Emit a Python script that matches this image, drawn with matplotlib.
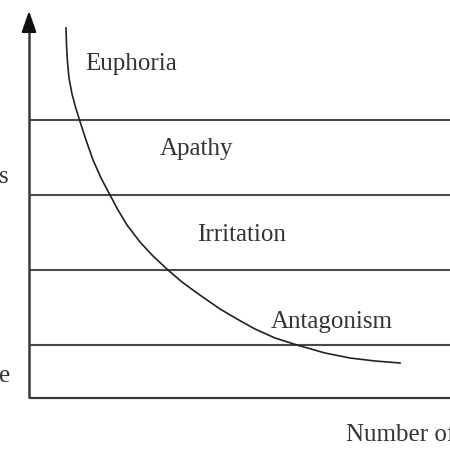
import matplotlib.pyplot as plt

# diagram measured in pixels of the 450x450 picture (origin top-left)
curve_x = [66, 66.5, 67.5, 69, 72, 75.5, 79.5, 86, 93, 101, 110, 118, 127, 140, 153, 168, 182, 197, 220, 237, 255, 275, 297, 325, 350, 375, 400]
curve_y = [28, 45, 62, 78, 94, 107, 120, 140, 160, 178, 195, 210, 225, 242, 256, 270, 282, 293, 309, 319, 329, 338, 345, 353, 358, 361, 363]
level_y = [120, 195, 270, 345]
zone_labels = ["Euphoria", "Apathy", "Irritation", "Antagonism"]
zone_label_x = [85, 160, 197, 271]
zone_label_y = [64, 149, 235, 322]

plt.rcParams["font.family"] = ["Liberation Serif", "DejaVu Serif"]

fig = plt.figure(figsize=(4.5, 4.5), dpi=100)
ax = fig.add_axes([0, 0, 1, 1])
ax.set_xlim(0, 450)
ax.set_ylim(450, 0)
ax.axis("off")

axis_x, axis_bottom = 29, 398
for y in level_y:
    ax.plot([axis_x, 450], [y, y], color="#4a4a4a", lw=1.5, solid_capstyle="butt")
ax.plot([axis_x, 450], [axis_bottom, axis_bottom], color="#3a3a3a", lw=1.6, solid_capstyle="butt")
ax.plot([axis_x, axis_x], [axis_bottom, 26], color="#3a3a3a", lw=1.8, solid_capstyle="butt")
ax.annotate("", xy=(axis_x, 8), xytext=(axis_x, 28),
            arrowprops=dict(arrowstyle="-|>,head_length=1.3,head_width=0.45", color="#111", lw=1.5))

ax.plot(curve_x, curve_y, color="#222222", lw=1.2, solid_joinstyle="round")

for label, x, y in zip(zone_labels, zone_label_x, zone_label_y):
    ax.text(x, y, label, fontsize=18, color="#333333", ha="left", va="center")

# x-axis label, cut off at the right edge as in the reference
ax.text(346, 435, "Number of", fontsize=18, color="#333333", ha="left", va="center")
# cut-off fragments of the y-axis label on the left edge
ax.text(-1, 177, "s", fontsize=18, color="#333333", ha="left", va="center")
ax.text(-1, 376, "e", fontsize=18, color="#333333", ha="left", va="center")

fig.savefig("out.png", dpi=100)
